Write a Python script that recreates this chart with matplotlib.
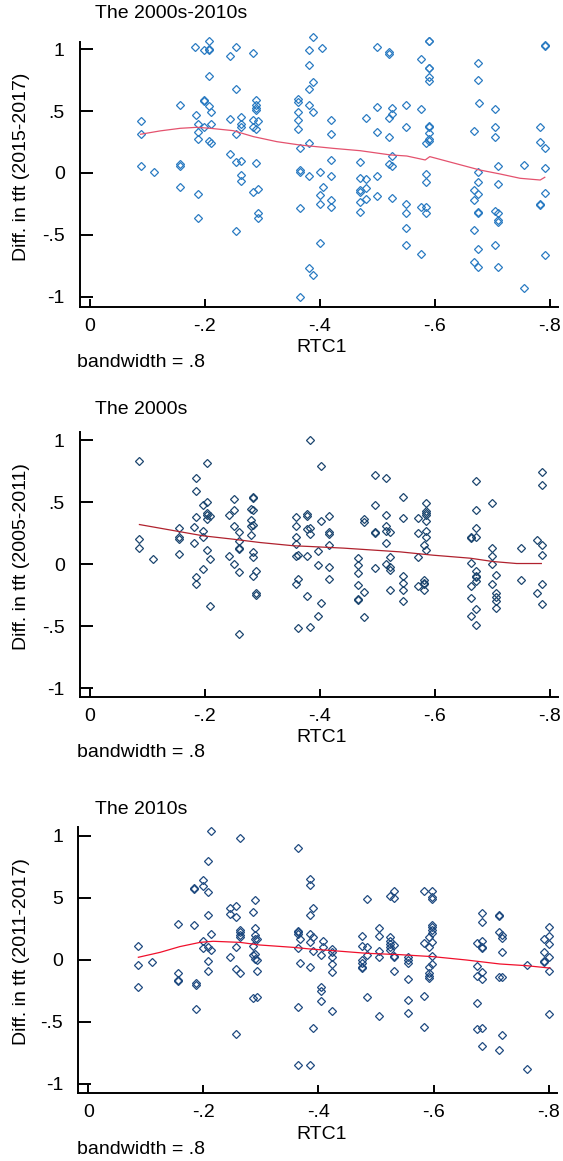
import numpy as np
import matplotlib.pyplot as plt

plt.rcParams["font.family"] = ["Liberation Sans", "DejaVu Sans"]

# ---- panel 1: The 2000s-2010s ----
rtc1_p1 = [-0.088, -0.112, -0.157, -0.183, -0.185, -0.187, -0.198, -0.207, -0.210,
           -0.244, -0.254, -0.262, -0.283, -0.288, -0.292, -0.362, -0.365, -0.381,
           -0.387, -0.404, -0.400, -0.405, -0.420, -0.470, -0.480, -0.500, -0.520,
           -0.525, -0.549, -0.576, -0.585, -0.589, -0.668, -0.675, -0.677, -0.705,
           -0.710, -0.754, -0.783, -0.791]
diff_p1 = [
    [0.418, 0.318, 0.054], [0.008], [0.547, 0.070, 0.059, -0.116], [1.019], [0.472],
    [0.394, 0.332, 0.272, -0.173, -0.364], [0.992, 0.588, 0.580, 0.372],
    [1.067, 1.000, 0.992, 0.784, 0.544, 0.259], [0.493, 0.394, 0.245],
    [0.946, 0.437, 0.154], [1.019, 0.682, 0.318, 0.089, -0.472],
    [0.456, 0.394, 0.375, 0.100, -0.016, -0.065], [0.973, 0.429, 0.375, -0.151],
    [0.590, 0.547, 0.523, 0.509, 0.353, 0.084], [0.418, -0.127, -0.326, -0.364],
    [0.601, 0.571, 0.493, 0.429, 0.358], [0.205, 0.027, 0.011, -0.280, -1.000],
    [0.995, 0.873, 0.677, 0.550, 0.245, -0.024, -0.771], [1.102, 0.739, 0.496, -0.825],
    [1.011], [0.011, -0.178, -0.253, -0.569], [-0.116],
    [0.429, 0.318, 0.102, -0.027, -0.221, -0.272],
    [0.092, -0.043, -0.137, -0.151, -0.232, -0.318], [0.447, -0.051, -0.124, -0.210],
    [1.022, 0.536, 0.329, -0.024, -0.183], [0.981, 0.960, 0.442, 0.294, 0.073],
    [0.528, 0.474, 0.137, 0.057, -0.199], [0.547, 0.375, -0.251, -0.326, -0.447, -0.582],
    [0.919, 0.520, -0.272, -0.655], [0.240, -0.008, -0.075, -0.272, -0.326],
    [1.070, 1.065, 0.852, 0.846, 0.779, 0.747, 0.380, 0.369, 0.326, 0.272, 0.261],
    [0.340, -0.137, -0.218, -0.461, -0.717],
    [0.892, 0.752, 0.011, -0.075, -0.170, -0.313, -0.321, -0.617, -0.763], [0.569],
    [0.518, 0.375, 0.294, -0.307, -0.582], [0.057, -0.092, -0.326, -0.380, -0.394, -0.763],
    [0.065, -0.933], [0.375, 0.248, -0.253, -0.261],
    [1.035, 1.027, 0.199, 0.038, -0.162, -0.663],
]
lowess_x_p1 = [-0.088, -0.122, -0.157, -0.186, -0.209, -0.249, -0.284, -0.325, -0.365,
               -0.423, -0.470, -0.522, -0.551, -0.583, -0.591, -0.678, -0.713, -0.748,
               -0.783, -0.791]
lowess_y_p1 = [0.313, 0.340, 0.361, 0.369, 0.361, 0.342, 0.294, 0.253, 0.226, 0.199,
               0.180, 0.146, 0.137, 0.105, 0.132, 0.024, -0.008, -0.043, -0.057, -0.035]

# ---- panel 2: The 2000s ----
rtc1_p2 = [-0.086, -0.109, -0.154, -0.181, -0.185, -0.197, -0.204, -0.209, -0.241,
           -0.250, -0.259, -0.280, -0.284, -0.288, -0.358, -0.362, -0.377, -0.383,
           -0.397, -0.401, -0.416, -0.467, -0.477, -0.496, -0.515, -0.521, -0.545,
           -0.571, -0.581, -0.585, -0.663, -0.672, -0.700, -0.706, -0.749, -0.778,
           -0.786]
diff_p2 = [
    [0.830, 0.199, 0.126], [0.043], [0.295, 0.215, 0.204, 0.081], [0.303, 0.169],
    [0.693, 0.593, 0.376, -0.107, -0.164], [0.478, 0.268, 0.220, -0.040],
    [0.813, 0.497, 0.413, 0.397, 0.360, 0.115], [0.387, 0.043, -0.336], [0.395, 0.062],
    [0.521, 0.440, 0.306, 0.000], [0.260, 0.188, 0.126, 0.118, -0.064, -0.561],
    [0.443, 0.354, 0.306, 0.234], [0.540, 0.532, 0.435, 0.314, 0.099, 0.054, -0.099],
    [-0.054, -0.236, -0.247], [0.376, 0.306, 0.215, 0.166, 0.067, -0.164],
    [0.072, -0.118, -0.515], [0.403, 0.389, 0.282, 0.067, -0.255],
    [1.001, 0.295, 0.242, -0.510], [0.107, -0.008, -0.416], [0.787, 0.344, -0.317],
    [0.384, 0.260, 0.242, 0.153, -0.021, -0.121],
    [0.046, -0.008, -0.075, -0.172, -0.277, -0.287], [0.362, 0.336, -0.228, -0.424],
    [0.717, 0.478, 0.255, 0.247, -0.035], [0.695, 0.397, 0.309, 0.263, 0.172, 0.000],
    [0.260, 0.054, -0.021, -0.046, -0.209], [0.542, 0.370, -0.099, -0.150, -0.209, -0.298],
    [0.370, 0.252, 0.054, -0.180], [0.153, -0.129, -0.150, -0.161, -0.209],
    [0.489, 0.430, 0.416, 0.395, 0.349, 0.268, 0.215, 0.113],
    [0.220, 0.209, 0.008, -0.174, -0.271, -0.416],
    [0.668, 0.435, 0.295, 0.215, -0.054, -0.094, -0.107, -0.134, -0.362, -0.489],
    [0.494, 0.134, 0.067, 0.005, -0.156], [-0.091, -0.236, -0.268, -0.295, -0.357],
    [0.126, -0.129], [0.193, -0.236], [0.741, 0.639, 0.153, 0.072, -0.156, -0.325],
]
lowess_x_p2 = [-0.086, -0.197, -0.249, -0.296, -0.354, -0.383, -0.441, -0.487, -0.539,
               -0.597, -0.661, -0.701, -0.742, -0.785]
lowess_y_p2 = [0.319, 0.228, 0.201, 0.174, 0.148, 0.142, 0.129, 0.115, 0.099, 0.072,
               0.048, 0.021, 0.005, 0.005]

# ---- panel 3: The 2010s ----
rtc1_p3 = [-0.087, -0.111, -0.156, -0.184, -0.188, -0.200, -0.208, -0.213, -0.246,
           -0.256, -0.264, -0.286, -0.290, -0.294, -0.364, -0.368, -0.385, -0.391,
           -0.404, -0.408, -0.424, -0.476, -0.485, -0.505, -0.524, -0.532, -0.555,
           -0.583, -0.592, -0.597, -0.676, -0.684, -0.714, -0.719, -0.763, -0.792,
           -0.800]
diff_p3 = [
    [0.116, -0.040, -0.215], [-0.013], [0.290, -0.105, -0.161, -0.167],
    [0.581, 0.570, 0.282], [-0.188, -0.202, -0.392], [0.645, 0.597, 0.156, 0.097],
    [0.798, 0.548, 0.363, 0.102, -0.005, -0.089], [1.038, 0.207, 0.083],
    [0.419, 0.374, 0.022], [0.435, 0.349, 0.102, -0.073, -0.594],
    [0.984, 0.245, 0.226, 0.204, 0.188, -0.108], [0.390, 0.116, 0.038, -0.309],
    [0.484, 0.255, 0.204, 0.169, 0.048, 0.008], [0.169, 0.000, -0.089, -0.301],
    [0.901, 0.237, 0.223, 0.210, 0.094, -0.376, -0.844], [0.169, -0.027],
    [0.653, 0.602, 0.363, 0.210, 0.142, -0.059, -0.844], [0.419, 0.183, 0.070, -0.548],
    [0.043, -0.215, -0.247, -0.328], [0.156, 0.102],
    [0.089, 0.062, 0.027, -0.032, -0.099, -0.409],
    [0.196, 0.116, 0.000, -0.027, -0.054, -0.067], [0.492, 0.108, 0.043, -0.296],
    [0.255, 0.196, 0.070, 0.027, -0.449], [0.516, 0.188, 0.156, 0.129, 0.102, 0.081],
    [0.559, 0.500, 0.124, 0.032, 0.022, -0.086],
    [0.022, 0.000, -0.027, -0.153, -0.320, -0.430], [0.559, 0.134, -0.288, -0.538],
    [0.188, 0.108, -0.059, -0.108, -0.126, -0.145],
    [0.559, 0.505, 0.492, 0.285, 0.263, 0.242, 0.215, 0.142, 0.035, -0.032],
    [0.134, -0.051, -0.126, -0.347, -0.556],
    [0.376, 0.309, 0.156, 0.108, 0.097, -0.099, -0.153, -0.548, -0.696],
    [0.366, 0.355, 0.228, -0.140, -0.726], [0.204, 0.175, 0.062, -0.140, -0.605],
    [-0.040, -0.879], [0.169, 0.067, -0.005, -0.013],
    [0.263, 0.196, 0.129, 0.022, -0.086, -0.435],
]
lowess_x_p3 = [-0.087, -0.125, -0.159, -0.194, -0.217, -0.264, -0.298, -0.356, -0.385,
               -0.426, -0.484, -0.542, -0.599, -0.657, -0.715, -0.762, -0.802]
lowess_y_p3 = [0.022, 0.062, 0.108, 0.142, 0.151, 0.142, 0.121, 0.102, 0.089, 0.075,
               0.054, 0.043, 0.027, 0.000, -0.032, -0.046, -0.065]

titles = ["The 2000s-2010s", "The 2000s", "The 2010s"]
ylabels = ["Diff. in tft (2015-2017)", "Diff. in tft (2005-2011)", "Diff. in tft (2011-2017)"]
xticks = [0, -0.2, -0.4, -0.6, -0.8]
xtick_labels = ["0", "-.2", "-.4", "-.6", "-.8"]
yticks = [1, 0.5, 0, -0.5, -1]
ytick_labels = [["1", ".5", "0", "-.5", "-1"],
                ["1", ".5", "0", "-.5", "-1"],
                ["1", "5", "0", "-.5", "-1"]]

W, H = 563, 1161
fig = plt.figure(figsize=(W / 100, H / 100), dpi=100)

# pixel boxes: left, right, top, bottom, ylim, title y
boxes = [
    (80, 558, 41.7, 306.7, (-1.081, 1.061), 14),
    (80, 558, 431.7, 696.7, (-1.068, 1.067), 409),
    (78.3, 556.7, 826.7, 1093.3, (-1.075, 1.075), 810),
]
marker_colors = ["#2a7bc2", "#1c466f", "#1f4a80"]
line_colors = ["#e4526e", "#b0222e", "#f0102c"]

panels = [(rtc1_p1, diff_p1, lowess_x_p1, lowess_y_p1),
          (rtc1_p2, diff_p2, lowess_x_p2, lowess_y_p2),
          (rtc1_p3, diff_p3, lowess_x_p3, lowess_y_p3)]

for i, (rtc, diff, lx, ly) in enumerate(panels):
    left, right, top, bottom, ylim, ty = boxes[i]
    ax = fig.add_axes([left / W, 1 - bottom / H, (right - left) / W, (bottom - top) / H])
    xs = np.repeat(rtc, [len(d) for d in diff])
    ys = np.concatenate([np.array(d) for d in diff])
    ax.plot(xs, ys, linestyle="none", marker="D", markersize=3.6, clip_on=False,
            markerfacecolor="none", markeredgecolor=marker_colors[i], markeredgewidth=0.9)
    ax.plot(lx, ly, color=line_colors[i], linewidth=0.9)

    ax.set_xlim(0.0174, -0.814)
    ax.set_ylim(*ylim)
    ax.spines["top"].set_visible(False)
    ax.spines["right"].set_visible(False)
    ax.spines["left"].set_linewidth(1.4)
    ax.spines["bottom"].set_linewidth(1.4)
    ax.set_xticks(xticks)
    ax.set_xticklabels(xtick_labels)
    ax.set_yticks(yticks)
    ax.set_yticklabels(ytick_labels[i])
    ax.tick_params(axis="y", direction="in", length=9.5, width=1.4, pad=11, labelsize=14)
    ax.tick_params(axis="x", direction="in", length=5.5, width=1.4, pad=8, labelsize=14)

    fig.text(95 / W, 1 - ty / H, titles[i], fontsize=14, ha="left", va="center")
    fig.text(22 / W, 1 - (top + 125) / H, ylabels[i], fontsize=14, rotation=90,
             ha="center", va="center")
    fig.text(322 / W, 1 - (bottom + 41) / H, "RTC1", fontsize=14, ha="center", va="center")
    fig.text(77 / W, 1 - (bottom + 56) / H, "bandwidth = .8", fontsize=14,
             ha="left", va="center")

fig.savefig("out.png", dpi=100)
